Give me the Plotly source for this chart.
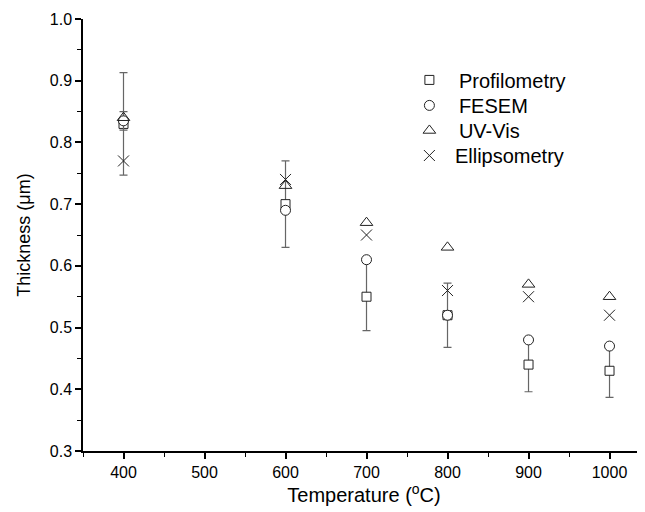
import plotly.graph_objects as go

temperature = [400, 600, 700, 800, 900, 1000]
profilometry = [0.83, 0.70, 0.55, 0.52, 0.44, 0.43]
profilometry_err = [0.083, 0.07, 0.055, 0.052, 0.044, 0.043]
fesem = [0.835, 0.69, 0.61, 0.52, 0.48, 0.47]
fesem_err = [0.015, None, None, None, None, None]
uvvis = [0.84, 0.73, 0.67, 0.63, 0.57, 0.55]
ellipsometry = [0.77, 0.74, 0.65, 0.56, 0.55, 0.52]

series_names = ["Profilometry", "FESEM", "UV-Vis", "Ellipsometry"]
x_ticks = [400, 500, 600, 700, 800, 900, 1000]
y_ticks = [0.3, 0.4, 0.5, 0.6, 0.7, 0.8, 0.9, 1.0]

font = "Liberation Sans, Arial, sans-serif"
ink = "#222222"

fig = go.Figure()
fig.add_trace(go.Scatter(
    x=temperature, y=profilometry, mode="markers", name="\u2009" + series_names[0],
    legend="legend",
    error_y=dict(type="data", array=profilometry_err, visible=True,
                 color="#666666", thickness=1.2, width=4),
    marker=dict(symbol="square", size=9, color="white", line=dict(width=1, color=ink)),
))
fig.add_trace(go.Scatter(
    x=temperature, y=fesem, mode="markers", name="\u2009" + series_names[1],
    legend="legend2",
    error_y=dict(type="data", array=fesem_err, visible=True,
                 color="#666666", thickness=1.2, width=4),
    marker=dict(symbol="circle", size=10, color="white", line=dict(width=1, color=ink)),
))
fig.add_trace(go.Scatter(
    x=temperature, y=uvvis, mode="markers", name="\u2009" + series_names[2],
    legend="legend3",
    marker=dict(symbol="triangle-up-open", size=11, color=ink, line=dict(width=1)),
))
fig.add_trace(go.Scatter(
    x=temperature, y=ellipsometry, mode="markers", name=series_names[3],
    legend="legend4",
    marker=dict(symbol="x-thin-open", size=11, color=ink, line=dict(width=1, color=ink)),
))

legend_style = dict(x=0.571, xanchor="left", yanchor="middle",
                    font=dict(size=20, family=font), bgcolor="rgba(0,0,0,0)",
                    itemwidth=41)

# The page body adds an 8px offset; margins compensate so the plot area
# lands at x 83..645, y 19..451 in the window.
fig.update_layout(
    width=645, height=512,
    margin=dict(l=75, r=8, t=11, b=69),
    paper_bgcolor="white", plot_bgcolor="white",
    font=dict(family=font, color="black", size=16),
    showlegend=True,
    legend=dict(y=0.859, **legend_style),
    legend2=dict(y=0.800, **legend_style),
    legend3=dict(y=0.742, **legend_style),
    legend4=dict(y=0.684, **legend_style),
    xaxis=dict(
        range=[350, 1043.8], tickvals=x_ticks, ticktext=[str(v) for v in x_ticks],
        showgrid=False, zeroline=False, showline=True, linecolor="black", linewidth=1.5,
        ticks="outside", ticklen=6, tickwidth=1.5, tickcolor="black",
        tickfont=dict(size=16), automargin=False,
        minor=dict(tickvals=[350, 450, 550, 650, 750, 850, 950, 1050], ticks="outside",
                   ticklen=4, tickwidth=1.2, tickcolor="black"),
        title=dict(text="Temperature (<sup>o</sup>C)", font=dict(size=20), standoff=6),
    ),
    yaxis=dict(
        range=[0.3, 1.0], tickvals=y_ticks, ticktext=[f"{v:.1f}" for v in y_ticks],
        showgrid=False, zeroline=False, showline=True, linecolor="black", linewidth=1.5,
        ticks="outside", ticklen=6, tickwidth=1.5, tickcolor="black",
        tickfont=dict(size=16), automargin=False,
        minor=dict(tickvals=[0.35, 0.45, 0.55, 0.65, 0.75, 0.85, 0.95], ticks="outside",
                   ticklen=4, tickwidth=1.2, tickcolor="black"),
        title=dict(text="Thickness (μm)", font=dict(size=18), standoff=14),
    ),
)

fig.write_html("out.html")
